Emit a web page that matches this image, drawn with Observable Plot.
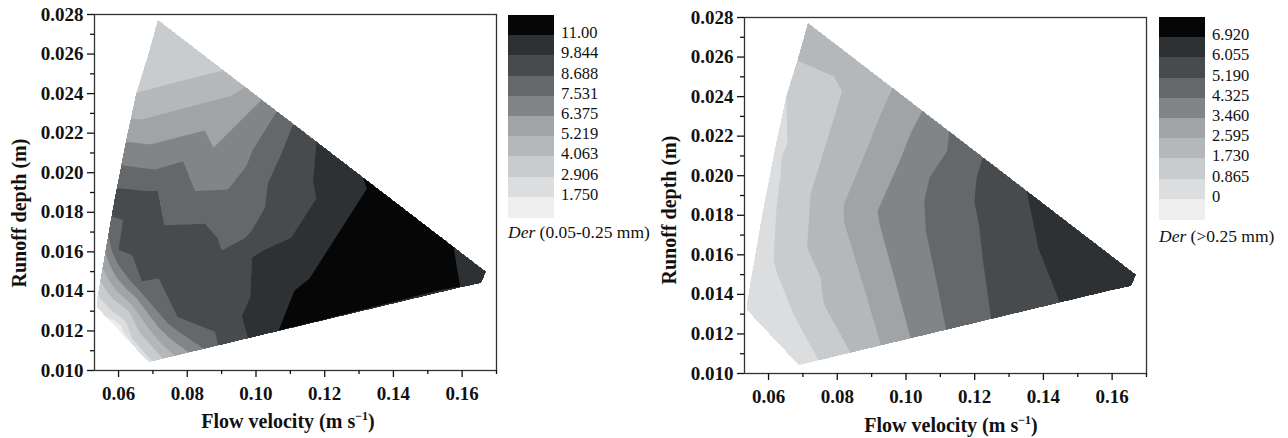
<!DOCTYPE html>
<html>
<head>
<meta charset="utf-8">
<script src="https://cdn.jsdelivr.net/npm/d3@7"></script>
<script src="https://cdn.jsdelivr.net/npm/@observablehq/plot@0.6"></script>
<style>
  html, body { margin: 0; padding: 0; background: #fff; }
  #root { position: relative; width: 1288px; height: 438px; overflow: hidden;
          font-family: "Liberation Serif", "Times New Roman", serif; color: #111; }
  .abs { position: absolute; white-space: nowrap; }
  .axtitle { font-size: 20px; font-weight: bold; line-height: 1; }
  .axtitle sup { font-size: 12px; vertical-align: 8px; line-height: 0; }
  .leglab { font-size: 16.5px; line-height: 1; }
  .legtitle { font-size: 17.5px; line-height: 1; }
</style>
</head>
<body>
<div id="root"></div>
<script>
// ---------------- shared axes ----------------
const xDomain = [0.053, 0.170];
const yDomain = [0.010, 0.028];
const xMajor = [0.06, 0.08, 0.10, 0.12, 0.14, 0.16];
const xMinor = [0.07, 0.09, 0.11, 0.13, 0.15, 0.17];
const yMajor = [0.010, 0.012, 0.014, 0.016, 0.018, 0.020, 0.022, 0.024, 0.026, 0.028];
const yMinor = [0.011, 0.013, 0.015, 0.017, 0.019, 0.021, 0.023, 0.025, 0.027];
const grays = ["#eeeeee", "#dbdddf", "#c9cccf", "#b5b8ba", "#a0a4a6", "#818588", "#64686b", "#474b4e", "#2e3133", "#060606"];

// measured data domain boundary (flow velocity, runoff depth), in order
const hullPts = [
  [0.0714, 0.02775], [0.0682, 0.0258], [0.0650, 0.0240], [0.0620, 0.0216],
  [0.0582, 0.0182], [0.0537, 0.0137], [0.0536, 0.0132], [0.0688, 0.0104],
  [0.1600, 0.0142], [0.1656, 0.0144], [0.1670, 0.0150]
];

// ---------------- Der (0.05-0.25 mm) ----------------
const fineLevels = [0, 1.750, 2.906, 4.063, 5.219, 6.375, 7.531, 8.688, 9.844, 11.00];
const fineLabels = ["11.00", "9.844", "8.688", "7.531", "6.375", "5.219", "4.063", "2.906", "1.750"];
const fineHullV = [3.5, 3.7, 4.07, 6.35, 8.9, 2.7, 2.3, 2.5, 10.9, 10.5, 10.4];
const fine2906 = [[0.0540, 0.01395], [0.0575, 0.0131], [0.0620, 0.0125], [0.0640, 0.0116], [0.0700, 0.01045]];
const fine4063 = [[0.0547, 0.0145], [0.0585, 0.0136], [0.0630, 0.0130], [0.0662, 0.0119], [0.0730, 0.01058],
                  [0.0775, 0.0246], [0.0905, 0.02517]];
const fine5219 = [[0.0553, 0.0152], [0.0590, 0.0141], [0.0640, 0.0133], [0.0688, 0.0121], [0.0765, 0.01073],
                  [0.06371, 0.02274], [0.06663, 0.02269], [0.0795, 0.02328], [0.09246, 0.02387], [0.09295, 0.02359], [0.09684, 0.02434]];
const fine6375 = [[0.0561, 0.0160], [0.0594, 0.0147], [0.0650, 0.0137], [0.0715, 0.0122], [0.0805, 0.01090],
                  [0.06906, 0.02143], [0.0771, 0.02178], [0.08515, 0.02213], [0.08758, 0.02126], [0.09465, 0.02248], [0.10172, 0.02370]];
const fine7531 = [[0.0569, 0.0169], [0.0597, 0.0154], [0.0658, 0.0141], [0.0742, 0.0124], [0.0850, 0.01108],
                  [0.06058, 0.02038], [0.07053, 0.02016], [0.07881, 0.02058], [0.08222, 0.01907], [0.09187, 0.01915], [0.0990, 0.02113], [0.10611, 0.02312]];
const fine8688 = [[0.0578, 0.0178], [0.0600, 0.0161], [0.0668, 0.0145], [0.0772, 0.0127], [0.0890, 0.01124],
                  [0.05932, 0.01924], [0.0676, 0.0191], [0.07149, 0.0191], [0.07345, 0.01733], [0.0790, 0.01738], [0.08515, 0.01742],
                  [0.0900, 0.01607], [0.09488, 0.01472], [0.0988, 0.01708], [0.10269, 0.01826], [0.10319, 0.0191], [0.1070, 0.0208], [0.11088, 0.02248]];
const fine9844 = [[0.1176, 0.02159], [0.11663, 0.01961], [0.1176, 0.0187], [0.1103, 0.01672], [0.1021, 0.01607],
                  [0.0988, 0.01571], [0.0983, 0.0137], [0.0977, 0.01163]];
const fine1100 = [[0.13126, 0.01977], [0.13222, 0.01919], [0.1239, 0.01692], [0.11556, 0.01465], [0.11117, 0.01404], [0.1065, 0.01200],
                  [0.15757, 0.01626], [0.1585, 0.0152], [0.15951, 0.01425]];
const fineInner = [
  [0.0600, 0.0121, 1.0], [0.0760, 0.0262, 3.5], [0.0780, 0.0240, 4.6], [0.0800, 0.0226, 5.8], [0.0900, 0.0228, 5.8],
  [0.0760, 0.0208, 7.0], [0.0950, 0.0210, 7.0], [0.0780, 0.0185, 8.1], [0.0880, 0.0180, 8.2], [0.0910, 0.0172, 8.3],
  [0.0960, 0.0170, 8.3], [0.1000, 0.0195, 8.2],
  [0.0625, 0.0178, 9.0], [0.0660, 0.0160, 9.2], [0.0700, 0.0165, 9.3], [0.0750, 0.0150, 9.35], [0.0820, 0.0145, 9.4],
  [0.0860, 0.0160, 9.2], [0.0920, 0.0140, 9.4], [0.0900, 0.0125, 9.4], [0.1080, 0.0195, 9.3],
  [0.1100, 0.0150, 10.4], [0.1220, 0.0190, 10.4], [0.1020, 0.0130, 10.3], [0.1630, 0.0149, 10.5],
  [0.1200, 0.0135, 11.6], [0.1350, 0.0160, 11.8], [0.1500, 0.0150, 11.5], [0.1400, 0.0175, 11.4]
];

// ---------------- Der (>0.25 mm) ----------------
const coarseLevels = [0, 0.865, 1.730, 2.595, 3.460, 4.325, 5.190, 6.055, 6.920];
const coarseLabels = ["6.920", "6.055", "5.190", "4.325", "3.460", "2.595", "1.730", "0.865", "0"];
const coarseHullV = [2.1, 1.72, 0.85, 0.6, 0.5, 0.4, 0.4, 0.5, 6.6, 6.75, 6.8];
const coarse0865 = [[0.06535, 0.02419], [0.06342, 0.01993], [0.0615, 0.01568], [0.0673, 0.01298], [0.0746, 0.01066]];
const coarse1730 = [[0.0790, 0.02503], [0.0814, 0.02427], [0.0768, 0.02166], [0.0722, 0.01905], [0.0712, 0.01636], [0.0761, 0.01349], [0.0839, 0.01103]];
const coarse2595 = [[0.0961, 0.02444], [0.0890, 0.0215], [0.0819, 0.01854], [0.0819, 0.0177], [0.0873, 0.01463], [0.0927, 0.01142]];
const coarse3460 = [[0.1048, 0.02330], [0.0983, 0.0208], [0.0917, 0.0182], [0.0922, 0.01762], [0.0968, 0.0147], [0.1014, 0.01176]];
const coarse4325 = [[0.1126, 0.02226], [0.1068, 0.01989], [0.1053, 0.01871], [0.1058, 0.0172], [0.1088, 0.0147], [0.1117, 0.01219]];
const coarse5190 = [[0.1224, 0.02095], [0.1205, 0.0199], [0.1199, 0.01871], [0.1224, 0.0157], [0.1248, 0.01274]];
const coarse6055 = [[0.1351, 0.01925], [0.1385, 0.01636], [0.1448, 0.01357]];
const coarseInner = [
  [0.0580, 0.0150, 0.55], [0.0745, 0.0265, 2.1], [0.0670, 0.0200, 1.3], [0.0690, 0.0150, 1.3],
  [0.0780, 0.0190, 2.15], [0.0870, 0.0230, 2.15], [0.0870, 0.0180, 3.0], [0.0960, 0.0225, 3.0],
  [0.0990, 0.0175, 3.9], [0.1070, 0.0220, 3.9], [0.1130, 0.0180, 4.75], [0.1170, 0.0205, 4.75],
  [0.1290, 0.0170, 5.6], [0.1520, 0.0150, 6.5]
];

// ---------------- build tables ----------------
function buildTable(hullV, isoSets, inner) {
  const rows = hullPts.map(([x, y], i) => ({x, y, v: hullV[i]}));
  for (const [v, pts] of isoSets) for (const [x, y] of pts) rows.push({x, y, v});
  for (const [x, y, v] of inner) rows.push({x, y, v});
  return rows;
}
const fineTable = buildTable(fineHullV, [
  [2.906, fine2906], [4.063, fine4063], [5.219, fine5219], [6.375, fine6375],
  [7.531, fine7531], [8.688, fine8688], [9.844, fine9844], [11.00, fine1100]
], fineInner);
const coarseTable = buildTable(coarseHullV, [
  [0.865, coarse0865], [1.730, coarse1730], [2.595, coarse2595], [3.460, coarse3460],
  [4.325, coarse4325], [5.190, coarse5190], [6.055, coarse6055]
], coarseInner);

// barycentric interpolation limited to the measured domain
function maskedInterpolate(nHull) {
  const base = Plot.interpolatorBarycentric ? Plot.interpolatorBarycentric() : Plot.interpolateNearest;
  return (index, width, height, X, Y, V) => {
    const out = base(index, width, height, X, Y, V);
    const poly = [];
    for (const i of index) if (i < nHull) poly.push([X[i], Y[i]]);
    for (let j = 0; j < height; ++j) {
      for (let i = 0; i < width; ++i) {
        if (!d3.polygonContains(poly, [i + 0.5, j + 0.5])) out[j * width + i] = NaN;
      }
    }
    return out;
  };
}

const root = document.getElementById("root");
function place(el, left, top) {
  el.style.position = "absolute";
  el.style.left = left + "px";
  el.style.top = top + "px";
  root.appendChild(el);
}
function addHTML(cls, html, cx, cy, rotate) {
  const d = document.createElement("div");
  d.className = "abs " + cls;
  d.innerHTML = html;
  d.style.left = cx + "px";
  d.style.top = cy + "px";
  d.style.transform = "translate(-50%, -50%)" + (rotate ? " rotate(-90deg)" : "");
  root.appendChild(d);
  return d;
}

function makeChart(table, levels, lowestBandShown) {
  // contour at a hair below each level so values sitting exactly on a level are stable
  const T = levels.map((t) => t - 1e-7);
  const colorDomain = lowestBandShown ? T.slice(1) : T;
  return Plot.plot({
    width: 500, height: 410,
    marginLeft: 94, marginRight: 4, marginTop: 14, marginBottom: 40,
    style: {fontFamily: "Liberation Serif, Times New Roman, serif", color: "#111", background: "transparent", overflow: "visible"},
    x: {domain: xDomain},
    y: {domain: yDomain},
    color: {type: "threshold", domain: colorDomain, range: grays},
    marks: [
      Plot.contour(table, {
        x: "x", y: "y", value: "v", fill: "value",
        thresholds: T, interpolate: maskedInterpolate(hullPts.length),
        pixelSize: 1, smooth: true, stroke: "none"
      }),
      Plot.frame({stroke: "#333", strokeWidth: 1.3}),
      Plot.axisX({ticks: xMajor, tickSize: 7, tickPadding: 9, tickFormat: d3.format(".2f"),
                  fontSize: 19, fontWeight: "bold", label: null, strokeWidth: 1.3}),
      Plot.axisX({ticks: xMinor, tickSize: 4, tickFormat: () => "", label: null, strokeWidth: 1.3}),
      Plot.axisY({ticks: yMajor, tickSize: 7, tickPadding: 4, tickFormat: d3.format(".3f"),
                  fontSize: 19, fontWeight: "bold", label: null, strokeWidth: 1.3}),
      Plot.axisY({ticks: yMinor, tickSize: 4, tickFormat: () => "", label: null, strokeWidth: 1.3})
    ]
  });
}

function makeLegend(left, top, labels, titleHTML, titleY) {
  const boxH = 20.2, boxW = 46;
  const colors = grays.slice().reverse();
  colors.forEach((c, i) => {
    const b = document.createElement("div");
    b.style.cssText = `position:absolute;left:${left}px;top:${top + i * boxH}px;width:${boxW}px;height:${boxH + 0.6}px;background:${c};`;
    root.appendChild(b);
  });
  labels.forEach((t, i) => {
    const d = document.createElement("div");
    d.className = "abs leglab";
    d.textContent = t;
    d.style.left = (left + boxW + 7) + "px";
    d.style.top = (top + (i + 1) * boxH - 2) + "px";
    d.style.transform = "translateY(-50%)";
    root.appendChild(d);
  });
  const tt = document.createElement("div");
  tt.className = "abs legtitle";
  tt.innerHTML = titleHTML;
  tt.style.left = left + "px";
  tt.style.top = titleY + "px";
  tt.style.transform = "translateY(-50%)";
  root.appendChild(tt);
}

// left panel
place(makeChart(fineTable, fineLevels, true), 0, 0);
makeLegend(508, 15, fineLabels, "<i>Der</i> (0.05-0.25 mm)", 233);
addHTML("axtitle", "Runoff depth (m)", 19, 213, true);
addHTML("axtitle", "Flow velocity (m s<sup>&minus;1</sup>)", 288, 421, false);

// right panel
place(makeChart(coarseTable, coarseLevels, false), 650, 3);
makeLegend(1159, 17, coarseLabels, "<i>Der</i> (&gt;0.25 mm)", 237);
addHTML("axtitle", "Runoff depth (m)", 669, 210, true);
addHTML("axtitle", "Flow velocity (m s<sup>&minus;1</sup>)", 951, 425, false);
</script>
</body>
</html>
